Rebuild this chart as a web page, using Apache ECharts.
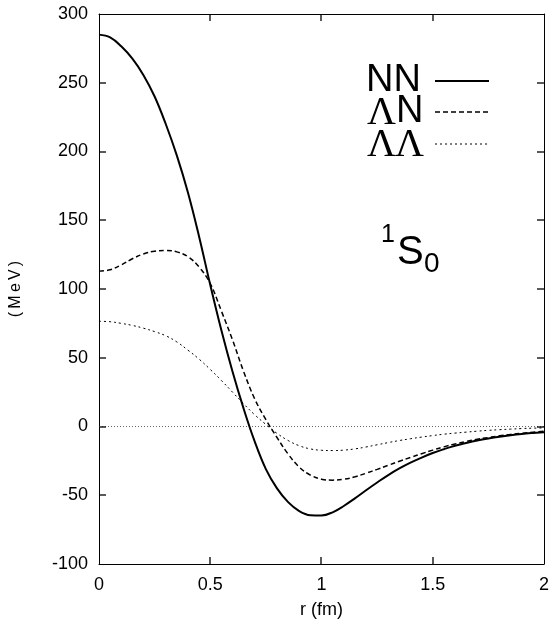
<!DOCTYPE html>
<html><head><meta charset="utf-8">
<script src="https://cdn.jsdelivr.net/npm/echarts@6/dist/echarts.min.js"></script>
<style>html,body{margin:0;padding:0;background:#fff}#c{width:552px;height:627px}</style>
</head><body><div id="c"></div>
<script>
const r = [0,0.05,0.1,0.15,0.2,0.25,0.3,0.35,0.4,0.45,0.5,0.55,0.6,0.65,0.7,0.75,0.8,0.85,0.9,0.95,1.0,1.05,1.1,1.15,1.2,1.25,1.3,1.35,1.4,1.45,1.5,1.55,1.6,1.65,1.7,1.75,1.8,1.85,1.9,1.95,2.0];
const nn = [285,283,276.5,267.5,255.5,240,220,197,170,138,103,70,40,13,-11,-31,-45,-55,-61.5,-64.5,-64.7,-62.4,-57.8,-52.3,-46.4,-40.7,-35.3,-30.5,-26.3,-22.6,-19.3,-16.5,-14,-12,-10.2,-8.7,-7.4,-6.3,-5.4,-4.7,-4.1];
const ln = [113,114,117.5,122,125.5,127.5,128,127,123.5,116,104,84,63,40,20,5,-8,-20,-29.5,-35.3,-38.3,-39,-38.4,-36.6,-34,-31.2,-28.2,-25.3,-22.5,-19.8,-17.2,-14.8,-12.7,-10.9,-9.3,-8,-6.8,-5.8,-4.9,-4.1,-3.4];
const ll = [76.5,76.2,75,73.5,71.5,69,66,61.5,55.5,49,41.5,33.5,25,16.5,8.5,1.5,-5,-10.2,-14,-16.3,-17.3,-17.5,-17.2,-16.3,-14.9,-13.3,-11.7,-10.2,-8.9,-7.7,-6.6,-5.6,-4.8,-4.1,-3.4,-2.8,-2.3,-1.9,-1.5,-1.2,-1];
const xTicks = [0,0.5,1,1.5,2];
const yTicks = [-100,-50,0,50,100,150,200,250,300];
const names = ['NN','ΛN','ΛΛ'];

const pair = (ys) => r.map((x,i)=>[x,ys[i]]);
const sans = 'Liberation Sans, Arial, Helvetica, sans-serif';
const serif = 'Liberation Serif, Times New Roman, serif';
const mkLine = () => ({show:true, onZero:false, lineStyle:{color:'#000', width:1}});
const xMin = xTicks[0], xMax = xTicks[xTicks.length-1];
const yMin = yTicks[0], yMax = yTicks[yTicks.length-1];
const TL = 7;
const TS = {stroke:'#000', lineWidth:1.3, fill:null};

// inward mirrored ticks, drawn through the axis scales
function xTickItem(params, api){
  const v = api.value(0);
  const b = api.coord([v, yMin]), t = api.coord([v, yMax]);
  const x = Math.round(b[0]);
  return {type:'group', children:[
    {type:'polyline', shape:{points:[[x,b[1]],[x,b[1]-TL]]}, style:TS},
    {type:'polyline', shape:{points:[[x,t[1]],[x,t[1]+TL]]}, style:TS}]};
}
function yTickItem(params, api){
  const v = api.value(1);
  const l = api.coord([xMin, v]), rr = api.coord([xMax, v]);
  const y = Math.round(l[1]);
  return {type:'group', children:[
    {type:'polyline', shape:{points:[[l[0],y],[l[0]+TL,y]]}, style:TS},
    {type:'polyline', shape:{points:[[rr[0],y],[rr[0]-TL,y]]}, style:TS}]};
}

const chart = echarts.init(document.getElementById('c'), null, {renderer:'canvas'});
chart.setOption({
  animation:false,
  grid:{left:98, right:7, top:14, bottom:63},
  xAxis:[{type:'value', min:xMin, max:xMax, interval:0.5, position:'bottom',
      axisLine:mkLine(), axisTick:{show:false}, splitLine:{show:false},
      axisLabel:{color:'#000', fontSize:18, fontFamily:sans, margin:12,
        formatter:v=>String(v)},
      name:'r (fm)', nameLocation:'middle', nameGap:37,
      nameTextStyle:{color:'#000', fontSize:18, fontFamily:sans}},
    {type:'value', min:xMin, max:xMax, interval:0.5, position:'top',
      axisLine:mkLine(), axisTick:{show:false}, axisLabel:{show:false}, splitLine:{show:false}}],
  yAxis:[{type:'value', min:yMin, max:yMax, interval:50, position:'left',
      axisLine:mkLine(), axisTick:{show:false}, splitLine:{show:false},
      axisLabel:{color:'#000', fontSize:18, fontFamily:sans, margin:11},
      name:'(\u2009M\u2009e\u2009V\u2009)', nameLocation:'middle', nameGap:75, nameRotate:90,
      nameTextStyle:{color:'#000', fontSize:16, fontFamily:sans}},
    {type:'value', min:yMin, max:yMax, interval:50, position:'right',
      axisLine:mkLine(), axisTick:{show:false}, axisLabel:{show:false}, splitLine:{show:false}}],
  series:[
    {name:names[0], type:'line', data:pair(nn), smooth:0.4, showSymbol:false, symbol:'none',
      lineStyle:{color:'#000', width:2}, z:5,
      markLine:{silent:true, symbol:['none','none'], label:{show:false},
        lineStyle:{color:'#666', width:1, type:[1,2]}, data:[{yAxis:0}]}},
    {name:names[1], type:'line', data:pair(ln), smooth:0.4, showSymbol:false, symbol:'none',
      lineStyle:{color:'#000', width:1.5, type:[5,3]}, z:4},
    {name:names[2], type:'line', data:pair(ll), smooth:0.4, showSymbol:false, symbol:'none',
      lineStyle:{color:'#000', width:1, type:[2,3]}, z:3},
    {name:'xticks', type:'custom', silent:true, clip:false, z:6, renderItem:xTickItem,
      data:xTicks.slice(1,-1).map(v=>[v,0]), encode:{x:0,y:1}},
    {name:'yticks', type:'custom', silent:true, clip:false, z:6, renderItem:yTickItem,
      data:yTicks.slice(1,-1).map(v=>[0,v]), encode:{x:0,y:1}}
  ],
  graphic:[
    {type:'text', left:366, top:62, style:{text:'NN', font:'38px '+sans, fill:'#000'}},
    {type:'line', shape:{x1:435,y1:81,x2:489,y2:81}, style:{stroke:'#000', lineWidth:2}},
    {type:'text', left:367, top:93, style:{text:'Λ', font:'40px '+serif, fill:'#000'}},
    {type:'text', left:396, top:93, style:{text:'N', font:'38px '+sans, fill:'#000'}},
    {type:'line', shape:{x1:435,y1:112,x2:489,y2:112}, style:{stroke:'#000', lineWidth:1.5, lineDash:[5,3]}},
    {type:'text', left:367, top:125, style:{text:'Λ', font:'40px '+serif, fill:'#000'}},
    {type:'text', left:395, top:125, style:{text:'Λ', font:'40px '+serif, fill:'#000'}},
    {type:'line', shape:{x1:435,y1:144,x2:489,y2:144}, style:{stroke:'#000', lineWidth:1, lineDash:[2,3]}},
    {type:'text', left:381, top:223, style:{text:'1', font:'25px '+sans, fill:'#000'}},
    {type:'text', left:397, top:233, style:{text:'S', font:'40px '+sans, fill:'#000'}},
    {type:'text', left:424, top:250, style:{text:'0', font:'28px '+sans, fill:'#000'}}
  ]
});
</script></body></html>
